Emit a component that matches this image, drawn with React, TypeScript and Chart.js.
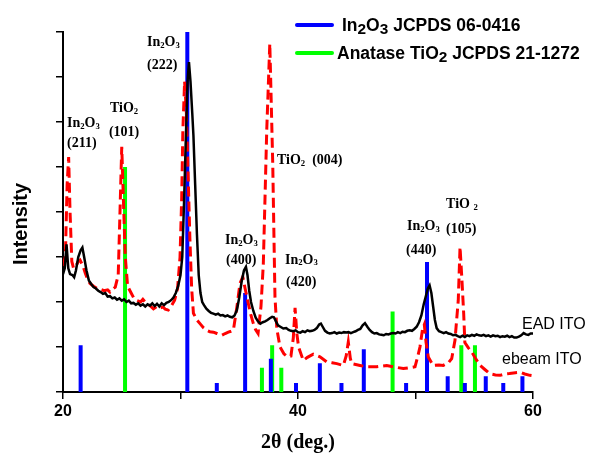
import React, { useEffect, useRef } from 'react';
import { Chart, registerables } from 'chart.js';

Chart.register(...registerables);

// In2O3 JCPDS 06-0416 reference lines (2θ, scaled intensity)
const in2o3Pos = [21.5, 30.58, 33.09, 35.5, 37.69, 39.83, 41.86, 43.7, 45.6, 49.2, 50.98, 52.74, 54.2, 55.98, 57.47, 59.1];
const in2o3H = [1.04, 8.0, 0.2, 2.2, 0.74, 0.2, 0.64, 0.2, 0.95, 0.2, 2.89, 0.35, 0.2, 0.35, 0.2, 0.35];

// Anatase TiO2 JCPDS 21-1272 reference lines
const tio2Pos = [25.28, 36.93, 37.8, 38.58, 48.05, 53.9, 55.06];
const tio2H = [5.0, 0.54, 1.04, 0.54, 1.79, 1.04, 1.04];

// EAD ITO (black solid)
const eadX = [20.0, 20.15, 20.3, 20.45, 20.6, 20.8, 20.95, 21.1, 21.3, 21.5, 21.65, 21.8, 22.0, 22.2, 22.4, 22.6, 22.8, 23.0, 23.2, 23.4, 23.6, 23.8, 24.0, 24.2, 24.4, 24.6, 24.8, 25.0, 25.2, 25.4, 25.6, 25.8, 26.0, 26.2, 26.4, 26.6, 26.8, 27.0, 27.2, 27.4, 27.6, 27.8, 28.0, 28.2, 28.4, 28.6, 28.8, 29.0, 29.2, 29.4, 29.6, 29.8, 30.0, 30.15, 30.3, 30.45, 30.6, 30.72, 30.85, 31.0, 31.1, 31.25, 31.4, 31.55, 31.7, 31.85, 32.0, 32.2, 32.4, 32.6, 32.8, 33.0, 33.2, 33.4, 33.6, 33.8, 34.0, 34.2, 34.4, 34.6, 34.8, 35.0, 35.2, 35.4, 35.57, 35.7, 35.85, 36.0, 36.2, 36.4, 36.6, 36.8, 37.0, 37.2, 37.4, 37.6, 37.8, 37.95, 38.1, 38.3, 38.5, 38.75, 39.0, 39.2, 39.4, 39.6, 39.8, 40.0, 40.2, 40.4, 40.6, 40.8, 41.0, 41.2, 41.4, 41.6, 41.8, 41.95, 42.1, 42.3, 42.5, 42.7, 42.9, 43.1, 43.3, 43.5, 43.7, 43.9, 44.1, 44.3, 44.5, 44.7, 44.9, 45.1, 45.3, 45.5, 45.7, 45.9, 46.1, 46.3, 46.5, 46.7, 46.9, 47.1, 47.3, 47.5, 47.7, 47.9, 48.1, 48.3, 48.5, 48.7, 48.9, 49.1, 49.3, 49.5, 49.7, 49.9, 50.1, 50.3, 50.5, 50.7, 50.9, 51.05, 51.2, 51.35, 51.5, 51.65, 51.8, 52.0, 52.2, 52.4, 52.6, 52.8, 53.0, 53.2, 53.4, 53.6, 53.8, 54.0, 54.2, 54.4, 54.6, 54.8, 55.0, 55.2, 55.4, 55.6, 55.8, 56.0, 56.2, 56.4, 56.6, 56.8, 57.0, 57.2, 57.4, 57.6, 57.8, 58.0, 58.2, 58.4, 58.6, 58.8, 59.0, 59.2, 59.4, 59.6, 59.8, 60.0];
const eadY = [2.62, 2.75, 3.28, 2.75, 2.62, 2.6, 2.55, 2.7, 3.0, 3.15, 3.21, 3.0, 2.7, 2.48, 2.4, 2.33, 2.3, 2.25, 2.22, 2.18, 2.2, 2.12, 2.13, 2.08, 2.1, 2.05, 2.08, 2.03, 2.06, 2.0, 2.03, 1.97, 1.98, 1.94, 1.97, 1.92, 1.95, 1.9, 1.95, 1.92, 1.97, 1.91, 1.96, 1.9, 1.97, 1.93, 1.98, 2.0, 2.04, 2.1, 2.2, 2.35, 2.6, 3.0, 4.2, 5.6, 6.9, 7.33, 6.9, 6.2, 5.7, 4.6, 3.5, 2.6, 2.2, 2.0, 1.93, 1.85, 1.8, 1.76, 1.74, 1.72, 1.74, 1.7, 1.71, 1.68, 1.7, 1.67, 1.66, 1.7, 1.82, 2.1, 2.45, 2.7, 2.78, 2.6, 2.25, 2.0, 1.8, 1.65, 1.57, 1.52, 1.55, 1.57, 1.6, 1.64, 1.67, 1.66, 1.58, 1.48, 1.45, 1.41, 1.42, 1.38, 1.36, 1.35, 1.37, 1.33, 1.32, 1.35, 1.33, 1.37, 1.35, 1.36, 1.38, 1.42, 1.5, 1.52, 1.45, 1.36, 1.32, 1.3, 1.31, 1.33, 1.3, 1.32, 1.31, 1.33, 1.32, 1.33, 1.31, 1.33, 1.35, 1.38, 1.4, 1.48, 1.53, 1.45, 1.38, 1.33, 1.3, 1.31, 1.28, 1.27, 1.26, 1.29, 1.28, 1.3, 1.31, 1.3, 1.33, 1.31, 1.34, 1.33, 1.36, 1.37, 1.36, 1.4, 1.45, 1.55, 1.7, 1.95, 2.15, 2.3, 2.37, 2.2, 1.9, 1.6, 1.42, 1.35, 1.33, 1.31, 1.33, 1.3, 1.29, 1.26, 1.27, 1.24, 1.22, 1.25, 1.22, 1.26, 1.24, 1.27, 1.25, 1.28, 1.26, 1.25, 1.27, 1.24, 1.26, 1.23, 1.26, 1.24, 1.25, 1.22, 1.24, 1.23, 1.25, 1.22, 1.24, 1.21, 1.21, 1.23, 1.26, 1.31, 1.28, 1.27, 1.3, 1.3];

// ebeam ITO (red dashed)
const ebeamX = [20.0, 20.2, 20.35, 20.48, 20.6, 20.75, 20.9, 21.1, 21.3, 21.45, 21.7, 21.9, 22.1, 22.3, 22.6, 22.9, 23.2, 23.5, 23.8, 24.0, 24.2, 24.45, 24.7, 24.85, 25.0, 25.15, 25.3, 25.5, 25.8, 26.0, 26.3, 26.6, 26.8, 27.1, 27.4, 27.7, 28.0, 28.2, 28.5, 28.7, 28.96, 29.2, 29.5, 29.75, 29.96, 30.1, 30.2, 30.35, 30.5, 30.65, 30.8, 30.95, 31.1, 31.4, 31.66, 31.95, 32.23, 32.5, 32.8, 33.1, 33.5, 33.8, 34.07, 34.3, 34.5, 34.8, 35.06, 35.3, 35.5, 35.77, 36.0, 36.2, 36.4, 36.6, 36.85, 37.05, 37.34, 37.6, 37.85, 38.04, 38.2, 38.47, 38.8, 39.1, 39.4, 39.6, 39.75, 39.9, 40.05, 40.45, 40.8, 41.3, 41.87, 42.44, 42.9, 43.3, 43.86, 44.1, 44.28, 44.45, 44.57, 45.28, 45.85, 46.7, 47.55, 48.1, 48.96, 49.5, 49.96, 50.2, 50.38, 50.6, 50.75, 50.9, 51.09, 51.5, 52.0, 52.36, 52.8, 53.08, 53.36, 53.64, 53.79, 53.95, 54.1, 54.2, 54.5, 54.78, 55.1, 55.5, 55.9, 56.3, 56.8, 57.2, 57.6, 58.0, 58.5, 58.9, 59.3, 59.74, 60.0];
const ebeamY = [2.8, 3.0, 4.6, 5.22, 4.0, 2.9, 2.75, 2.8, 2.9, 2.93, 2.8, 2.64, 2.5, 2.41, 2.35, 2.3, 2.28, 2.25, 2.27, 2.22, 2.28, 2.33, 2.6, 4.0, 5.45, 4.2, 3.0, 2.35, 2.2, 2.1, 2.03, 2.0, 2.06, 1.97, 1.92, 1.85, 1.9, 1.86, 1.89, 1.84, 1.82, 1.9, 2.04, 2.3, 3.0, 4.3, 5.8, 6.9, 6.2, 4.8, 3.4, 2.3, 1.75, 1.6, 1.52, 1.43, 1.37, 1.34, 1.33, 1.3, 1.26, 1.3, 1.33, 1.35, 1.37, 1.89, 2.41, 2.56, 2.3, 1.97, 1.7, 1.52, 1.38, 1.3, 1.9, 2.86, 5.82, 7.74, 5.08, 2.11, 1.4, 1.0, 0.85, 0.78, 0.8, 1.2, 1.87, 1.3, 1.0, 0.7, 0.77, 0.84, 0.78, 0.67, 0.65, 0.63, 0.59, 0.8, 1.11, 0.75, 0.63, 0.59, 0.56, 0.56, 0.59, 0.56, 0.52, 0.54, 0.56, 0.8, 1.0, 1.4, 1.5, 1.1, 0.78, 0.59, 0.6, 0.59, 0.65, 0.74, 1.15, 2.04, 3.22, 2.5, 1.75, 1.1, 0.98, 0.89, 0.75, 0.59, 0.5, 0.41, 0.38, 0.37, 0.4, 0.41, 0.43, 0.44, 0.4, 0.37, 0.36];

const xTickLabels = [20, 40, 60];

type Part = [string, boolean?];
// Peak annotations: anchor in data coordinates (2θ, intensity), left-aligned
const peakLabels: { x: number; y: number; parts: Part[] }[] = [
  { x: 20.34, y: 5.97, parts: [['In'], ['2', true], ['O'], ['3', true]] },
  { x: 20.34, y: 5.53, parts: [['(211)']] },
  { x: 24.0, y: 6.3, parts: [['TiO'], ['2', true]] },
  { x: 23.91, y: 5.77, parts: [['(101)']] },
  { x: 27.15, y: 7.77, parts: [['In'], ['2', true], ['O'], ['3', true]] },
  { x: 27.15, y: 7.26, parts: [['(222)']] },
  { x: 38.21, y: 5.15, parts: [['TiO'], ['2', true], ['  (004)']] },
  { x: 33.79, y: 3.37, parts: [['In'], ['2', true], ['O'], ['3', true]] },
  { x: 33.87, y: 2.93, parts: [['(400)']] },
  { x: 38.89, y: 2.93, parts: [['In'], ['2', true], ['O'], ['3', true]] },
  { x: 38.98, y: 2.44, parts: [['(420)']] },
  { x: 49.28, y: 3.68, parts: [['In'], ['2', true], ['O'], ['3', true]] },
  { x: 49.19, y: 3.15, parts: [['(440)']] },
  { x: 52.6, y: 4.17, parts: [['TiO '], ['2', true]] },
  { x: 52.6, y: 3.62, parts: [['(105)']] },
];

const seriesLabels = [
  { x: 59.06, y: 1.5, text: 'EAD ITO' },
  { x: 57.36, y: 0.73, text: 'ebeam ITO' },
];

const legendItems: { color: string; parts: Part[] }[] = [
  { color: '#0000ff', parts: [['In'], ['2', true], ['O'], ['3', true], [' JCPDS 06-0416']] },
  { color: '#00ff00', parts: [['Anatase TiO'], ['2', true], [' JCPDS 21-1272']] },
];

function sticks(pos: number[], h: number[]) {
  const out: { x: number; y: number | null }[] = [];
  pos.forEach((p, i) => {
    out.push({ x: p, y: 0 }, { x: p, y: h[i] }, { x: p, y: null });
  });
  return out;
}

function drawRich(ctx: CanvasRenderingContext2D, x: number, y: number, parts: Part[], size: number, family: string, subScale: number, subDrop: number) {
  let cx = x;
  for (const [t, sub] of parts) {
    const s = sub ? size * subScale : size;
    ctx.font = `bold ${s}px ${family}`;
    ctx.fillText(t, cx, sub ? y + size * subDrop : y);
    cx += ctx.measureText(t).width;
  }
}

const textPlugin = {
  id: 'texts',
  afterDraw(chart: any) {
    const ctx: CanvasRenderingContext2D = chart.ctx;
    const xs = chart.scales.x;
    const ys = chart.scales.y;
    ctx.save();
    ctx.fillStyle = '#000';
    ctx.textBaseline = 'middle';
    ctx.textAlign = 'left';
    for (const l of peakLabels) {
      drawRich(ctx, xs.getPixelForValue(l.x), ys.getPixelForValue(l.y), l.parts, 14, '"Liberation Serif", "Times New Roman", serif', 0.62, 0.22);
    }
    ctx.font = '16px "Liberation Sans", Arial, sans-serif';
    for (const s of seriesLabels) {
      ctx.fillText(s.text, xs.getPixelForValue(s.x), ys.getPixelForValue(s.y));
    }
    // legend
    const lx = 297;
    legendItems.forEach((it, i) => {
      const ly = 25 + i * 28;
      ctx.strokeStyle = it.color;
      ctx.lineWidth = 4;
      ctx.lineCap = 'round';
      ctx.beginPath();
      ctx.moveTo(lx, ly);
      ctx.lineTo(lx + 35, ly);
      ctx.stroke();
      drawRich(ctx, i === 0 ? 342 : 337, ly + 1, it.parts, 17.5, '"Liberation Sans", Arial, sans-serif', 0.88, 0.22);
    });
    // axis titles
    ctx.font = 'bold 20px "Liberation Sans", Arial, sans-serif';
    ctx.textAlign = 'center';
    ctx.save();
    ctx.translate(21, (chart.chartArea.top + chart.chartArea.bottom) / 2 + 12);
    ctx.rotate(-Math.PI / 2);
    ctx.fillText('Intensity', 0, 0);
    ctx.restore();
    ctx.font = 'bold 20px "Liberation Serif", "Times New Roman", serif';
    ctx.fillText('2θ (deg.)', 298, 443);
    ctx.restore();
  },
};

export default function App() {
  const ref = useRef<HTMLCanvasElement | null>(null);
  useEffect(() => {
    if (!ref.current) return;
    const chart = new Chart(ref.current, {
      type: 'line',
      data: {
        datasets: [
          {
            label: 'EAD ITO',
            data: eadX.map((x, i) => ({ x, y: eadY[i] })),
            borderColor: '#000000',
            borderWidth: 2.5,
            pointRadius: 0,
            tension: 0,
            order: 0,
          },
          {
            label: 'ebeam ITO',
            data: ebeamX.map((x, i) => ({ x, y: ebeamY[i] })),
            borderColor: '#ff0000',
            borderWidth: 3,
            borderDash: [10, 5],
            pointRadius: 0,
            tension: 0,
            order: 1,
          },
          {
            label: 'In2O3 JCPDS 06-0416',
            data: sticks(in2o3Pos, in2o3H),
            borderColor: '#0000ff',
            borderWidth: 4,
            borderCapStyle: 'butt',
            pointRadius: 0,
            spanGaps: false,
            order: 2,
          },
          {
            label: 'Anatase TiO2 JCPDS 21-1272',
            data: sticks(tio2Pos, tio2H),
            borderColor: '#00ff00',
            borderWidth: 4,
            borderCapStyle: 'butt',
            pointRadius: 0,
            spanGaps: false,
            order: 3,
          },
        ],
      },
      options: {
        animation: false,
        responsive: false,
        devicePixelRatio: 1,
        layout: { padding: { left: 0, top: 32, right: 56, bottom: 0 } },
        plugins: { legend: { display: false }, tooltip: { enabled: false } },
        scales: {
          x: {
            type: 'linear',
            min: 20,
            max: 60,
            afterFit: (s: any) => { s.height = 61; },
            border: { display: true, color: '#000', width: 2 },
            grid: { display: true, drawOnChartArea: false, drawTicks: true, tickLength: 7, color: '#000', lineWidth: 1.5 },
            ticks: {
              stepSize: 10,
              autoSkip: false,
              maxRotation: 0,
              padding: 3,
              color: '#000',
              font: { family: '"Liberation Sans", Arial, sans-serif', size: 16, weight: 'bold' },
              callback: (v: any) => (xTickLabels.includes(Number(v)) ? String(v) : ''),
            },
          },
          y: {
            type: 'linear',
            min: 0,
            max: 8,
            afterFit: (s: any) => { s.width = 63; },
            border: { display: true, color: '#000', width: 2 },
            grid: { display: true, drawOnChartArea: false, drawTicks: true, tickLength: 7, color: '#000', lineWidth: 1.5 },
            ticks: { stepSize: 1, callback: () => '' },
          },
        },
      } as any,
      plugins: [textPlugin],
    });
    return () => chart.destroy();
  }, []);
  return (
    <div style={{ position: 'absolute', left: 0, top: 0, width: 589, height: 453, background: '#fff' }}>
      <canvas ref={ref} width={589} height={453} />
    </div>
  );
}
